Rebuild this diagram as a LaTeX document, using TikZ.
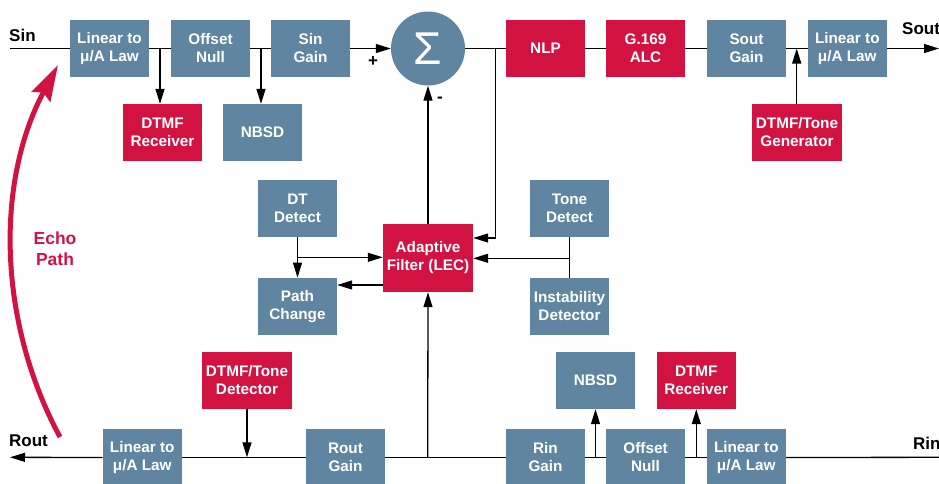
\documentclass[tikz,border=0pt]{standalone}
\usepackage{fontspec}
\setmainfont{Liberation Sans}
\usetikzlibrary{arrows.meta}
\definecolor{boxblue}{RGB}{95,133,160}
\definecolor{boxred}{RGB}{210,19,66}
\begin{document}
\begin{tikzpicture}[x=1pt,y=-1pt,
  blk/.style={draw=none, fill=boxblue, text=white, font=\fontsize{15.3}{18}\selectfont\bfseries, align=center, minimum width=79pt, minimum height=57pt, inner sep=0pt},
  rblk/.style={blk, fill=boxred},
  wideblk/.style={minimum width=90pt},
  wire/.style={line width=1.3pt, draw=black},
  arr/.style={wire, -{Triangle[length=15pt,width=9pt]}},
  lbl/.style={font=\fontsize{17}{20}\selectfont\bfseries, inner sep=0pt},
  sgn/.style={font=\fontsize{17}{20}\selectfont\bfseries, inner sep=0pt}
]
\useasboundingbox (0,0) rectangle (939,483);

% top row
\node[blk] (linA) at (109.5,48.5) {Linear to\\μ/A Law};
\node[blk] (offA) at (210.5,48.5) {Offset\\Null};
\node[blk] (sing) at (310.5,48.5) {Sin\\Gain};
\node[circle, fill=boxblue, minimum size=74pt, inner sep=0pt, text=white, font=\fontsize{46}{46}\selectfont] (sig) at (428,48.5) {Σ};
\node[rblk] (nlp) at (545.5,48.5) {NLP};
\node[rblk] (alc) at (645.5,48.5) {G.169\\ALC};
\node[blk] (soutg) at (746.5,48.5) {Sout\\Gain};
\node[blk] (linB) at (847.3,48.5) {Linear to\\μ/A Law};
\node[rblk] (dtmfA) at (162.5,132.5) {DTMF\\Receiver};
\node[blk] (nbsdA) at (262.5,132.5) {NBSD};
\node[rblk, wideblk] (gen) at (797,132.5) {DTMF/Tone\\Generator};

% middle
\node[blk] (dt) at (297.5,208.3) {DT\\Detect};
\node[blk] (pc) at (297.5,306.3) {Path\\Change};
\node[rblk, minimum width=90pt, minimum height=68pt] (lec) at (428,258) {Adaptive\\Filter (LEC)};
\node[blk] (tone) at (569.5,208.3) {Tone\\Detect};
\node[blk] (inst) at (569.5,306.5) {Instability\\Detector};

% bottom
\node[blk] (linC) at (142.3,457.5) {Linear to\\μ/A Law};
\node[blk] (routg) at (345.5,457.5) {Rout\\Gain};
\node[rblk, wideblk] (det) at (247,380.5) {DTMF/Tone\\Detector};
\node[blk] (ring) at (545.5,457.5) {Rin\\Gain};
\node[blk] (offB) at (645.5,457.5) {Offset\\Null};
\node[blk] (linD) at (746.3,457.5) {Linear to\\μ/A Law};
\node[blk] (nbsdB) at (595.5,380.5) {NBSD};
\node[rblk] (dtmfB) at (696.3,380.5) {DTMF\\Receiver};

% labels
\node[lbl, anchor=west] (sinL) at (9,35) {Sin};
\node[lbl, anchor=west] (soutL) at (902,29) {Sout};
\node[lbl, anchor=west] (routL) at (9,440.5) {Rout};
\node[lbl, anchor=west] (rinL) at (913,443) {Rin};
\node[sgn] (plus) at (373,62) {+};
\node[sgn] (minus) at (440,100) {-};
\node[font=\fontsize{17.5}{21}\selectfont\bfseries, text=boxred, align=center, inner sep=0pt] (echo) at (55,249) {Echo\\Path};

% coordinates
\coordinate (sinstart) at (10,48.5);
\coordinate (soutend) at (939,48.5);
\coordinate (j1) at (160,48.5);
\coordinate (j2) at (261,48.5);
\coordinate (j3) at (796.7,48.5);
\coordinate (j4) at (495.7,48.5);
\coordinate (fb) at (495.7,238);
\coordinate (j5) at (297.5,257.3);
\coordinate (lecout) at (383,285);
\coordinate (j6) at (569.5,258.3);
\coordinate (rinstart) at (939,457.3);
\coordinate (routend) at (10,457.3);
\coordinate (j7) at (427.7,457.3);
\coordinate (j8) at (595.5,457.3);
\coordinate (j9) at (696.3,457.3);
\coordinate (echoA) at (60,437);
\coordinate (echoB) at (58,65);

% top wires
\draw[wire] (sinstart) -- (linA.west);
\draw[wire] (linA.east) -- (offA.west);
\draw[wire] (offA.east) -- (sing.west);
\draw[arr] (sing.east) -- (sig.west);
\draw[wire] (sig.east) -- (nlp.west);
\draw[wire] (nlp.east) -- (alc.west);
\draw[wire] (alc.east) -- (soutg.west);
\draw[wire] (soutg.east) -- (linB.west);
\draw[arr] (linB.east) -- (soutend);
\draw[arr] (j1) -- (j1 |- dtmfA.north);
\draw[arr] (j2) -- (j2 |- nbsdA.north);
\draw[arr] (gen.north -| j3) -- (j3);
\draw[arr] (j4) -- (fb) -- (fb -| lec.east);
\draw[arr] (lec.north) -- (sig.south);

% middle wires
\draw[arr] (dt.south) -- (pc.north);
\draw[arr] (j5) -- (j5 -| lec.west);
\draw[arr] (lecout) -- (lecout -| pc.east);
\draw[wire] (tone.south) -- (inst.north);
\draw[arr] (j6) -- (j6 -| lec.east);

% bottom wires
\draw[wire] (rinstart) -- (linD.east);
\draw[wire] (linD.west) -- (offB.east);
\draw[wire] (offB.west) -- (ring.east);
\draw[wire] (ring.west) -- (routg.east);
\draw[wire] (routg.west) -- (linC.east);
\draw[arr] (linC.west) -- (routend);
\draw[arr] (j7) -- (lec.south);
\draw[arr] (det.south) -- (det.south |- j7);
\draw[arr] (j8) -- (nbsdB.south -| j8);
\draw[arr] (j9) -- (dtmfB.south -| j9);

% echo path
\draw[line width=5pt, boxred, -{Stealth[length=36pt,width=21pt,inset=5pt]}] (echoA) .. controls (-2.5,321) and (-4.5,181.5) .. (echoB);
\end{tikzpicture}
\end{document}
